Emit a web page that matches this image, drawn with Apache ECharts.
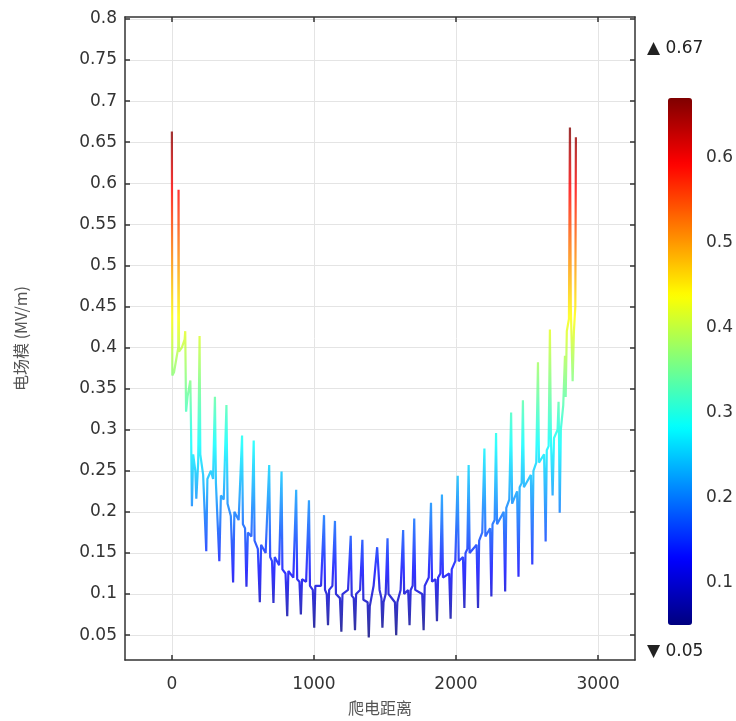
<!DOCTYPE html>
<html>
<head>
<meta charset="utf-8">
<script src="https://cdn.jsdelivr.net/npm/echarts@6/dist/echarts.min.js"></script>
<style>html,body{margin:0;padding:0;background:#fff}#c{width:736px;height:721px}</style>
</head>
<body>
<div id="c"></div>
<script>
// creepage distance (x) and field strength (y)
var creepage = [0,3,15,35,45,47,50,70,90,94,100,110,125,130,135,141,150,165,172,185,195,200,220,242,250,275,290,303,310,334,345,365,384,392,415,431,440,470,494,500,515,525,535,560,576,582,605,619,628,660,685,692,705,715,724,755,772,778,800,812,820,855,875,882,898,908,916,945,965,972,992,1002,1010,1050,1071,1078,1090,1099,1107,1130,1148,1155,1183,1193,1201,1240,1259,1266,1280,1289,1297,1325,1341,1348,1378,1386,1393,1420,1445,1462,1475,1482,1490,1505,1518,1525,1570,1579,1587,1610,1628,1635,1663,1673,1681,1695,1706,1713,1762,1772,1780,1808,1824,1831,1856,1866,1874,1890,1901,1908,1952,1962,1970,1995,2012,2019,2049,2059,2067,2080,2089,2096,2145,2155,2163,2185,2200,2207,2240,2249,2257,2272,2282,2289,2336,2346,2354,2375,2388,2395,2430,2440,2448,2462,2471,2478,2527,2537,2545,2565,2577,2584,2620,2631,2639,2652,2661,2668,2680,2690,2715,2722,2726,2730,2738,2755,2767,2772,2780,2795,2802,2808,2821,2830,2840,2844];
var fieldStrength = [0.663,0.366,0.37,0.39,0.40,0.592,0.395,0.40,0.41,0.42,0.322,0.34,0.355,0.36,0.30,0.207,0.27,0.25,0.216,0.26,0.414,0.27,0.245,0.152,0.24,0.25,0.24,0.34,0.235,0.14,0.22,0.215,0.33,0.21,0.195,0.114,0.2,0.19,0.293,0.185,0.18,0.109,0.175,0.17,0.287,0.165,0.155,0.090,0.16,0.15,0.257,0.145,0.14,0.089,0.145,0.135,0.249,0.13,0.125,0.073,0.128,0.12,0.227,0.118,0.115,0.075,0.118,0.115,0.214,0.11,0.105,0.059,0.11,0.11,0.196,0.105,0.1,0.062,0.105,0.11,0.189,0.1,0.095,0.054,0.1,0.105,0.171,0.098,0.095,0.056,0.1,0.105,0.166,0.093,0.09,0.047,0.085,0.11,0.157,0.105,0.095,0.059,0.09,0.1,0.168,0.1,0.09,0.050,0.09,0.105,0.178,0.1,0.105,0.062,0.105,0.11,0.192,0.105,0.1,0.056,0.11,0.12,0.211,0.115,0.118,0.067,0.12,0.125,0.221,0.12,0.125,0.070,0.13,0.14,0.244,0.14,0.145,0.083,0.15,0.155,0.257,0.15,0.16,0.083,0.165,0.175,0.277,0.17,0.18,0.097,0.185,0.19,0.296,0.185,0.2,0.103,0.205,0.215,0.321,0.21,0.225,0.121,0.23,0.235,0.336,0.23,0.245,0.136,0.25,0.26,0.382,0.26,0.27,0.164,0.275,0.28,0.422,0.29,0.22,0.29,0.30,0.334,0.28,0.199,0.30,0.33,0.39,0.34,0.42,0.435,0.668,0.45,0.359,0.42,0.45,0.656];

var xTicks = [0, 1000, 2000, 3000];
var yTicks = [0.05, 0.1, 0.15, 0.2, 0.25, 0.3, 0.35, 0.4, 0.45, 0.5, 0.55, 0.6, 0.65, 0.7, 0.75, 0.8];
var barTicks = [0.1, 0.2, 0.3, 0.4, 0.5, 0.6];
var colorMin = 0.05, colorMax = 0.67;
var jet = ['#00007F','#0000FF','#007FFF','#00FFFF','#7FFF7F','#FFFF00','#FF7F00','#FF0000','#7F0000'];

var lineData = creepage.map(function (x, i) { return [x, fieldStrength[i]]; });

var FONT = 'DejaVu Sans';
var CJK = 'Noto Sans CJK SC';
var chart = echarts.init(document.getElementById('c'), null, {renderer: 'canvas'});
var axisLineStyle = {color: '#333', width: 1.5};
var plain = function (v) { return String(v); };
chart.setOption({
  animation: false,
  backgroundColor: '#fff',
  grid: [
    {left: 125, top: 17, right: 101, bottom: 59, containLabel: false},
    {left: 668, top: 98, width: 24, height: 527, containLabel: false}
  ],
  xAxis: [
    {type: 'value', gridIndex: 0, min: -330, max: 3260, position: 'bottom',
     name: '爬电距离', nameLocation: 'middle', nameGap: 40,
     nameTextStyle: {fontFamily: CJK, fontSize: 16, color: '#555'},
     axisLine: {show: true, onZero: false, lineStyle: axisLineStyle},
     axisTick: {show: true, inside: true, length: 5, customValues: xTicks, lineStyle: {color: '#333', width: 1.5}},
     axisLabel: {customValues: xTicks, formatter: plain, margin: 16, fontFamily: FONT, fontSize: 17, color: '#333'},
     splitLine: {show: true, lineStyle: {color: '#e4e4e4', width: 1}}},
    {type: 'value', gridIndex: 0, min: -330, max: 3260, position: 'top',
     axisLine: {show: true, onZero: false, lineStyle: axisLineStyle},
     axisTick: {show: true, inside: true, length: 5, customValues: xTicks, lineStyle: {color: '#333', width: 1.5}},
     axisLabel: {show: false}, splitLine: {show: false}},
    {type: 'value', gridIndex: 1, show: false, min: 0, max: 1}
  ],
  yAxis: [
    {type: 'value', gridIndex: 0, min: 0.0197, max: 0.8024, position: 'left',
     name: '电场模 (MV/m)', nameLocation: 'middle', nameGap: 96,
     nameTextStyle: {fontFamily: CJK, fontSize: 16, color: '#555'},
     axisLine: {show: true, onZero: false, lineStyle: axisLineStyle},
     axisTick: {show: true, inside: true, length: 5, customValues: yTicks, lineStyle: {color: '#333', width: 1.5}},
     axisLabel: {customValues: yTicks, formatter: plain, margin: 8, fontFamily: FONT, fontSize: 17, color: '#333'},
     splitLine: {show: true, lineStyle: {color: '#e4e4e4', width: 1}}},
    {type: 'value', gridIndex: 0, min: 0.0197, max: 0.8024, position: 'right',
     axisLine: {show: true, onZero: false, lineStyle: axisLineStyle},
     axisTick: {show: true, inside: true, length: 5, customValues: yTicks, lineStyle: {color: '#333', width: 1.5}},
     axisLabel: {show: false}, splitLine: {show: false}},
    {type: 'value', gridIndex: 1, min: colorMin, max: colorMax, position: 'right',
     axisLine: {show: false, onZero: false},
     axisTick: {show: true, inside: true, length: 4, customValues: barTicks, lineStyle: {color: '#333', width: 1.2}},
     axisLabel: {customValues: barTicks, formatter: plain, margin: 16, fontFamily: FONT, fontSize: 17, color: '#333'},
     splitLine: {show: false}},
    {type: 'value', gridIndex: 1, min: colorMin, max: colorMax, position: 'left',
     axisLine: {show: false, onZero: false},
     axisTick: {show: true, inside: true, length: 4, customValues: barTicks, lineStyle: {color: '#333', width: 1.2}},
     axisLabel: {show: false}, splitLine: {show: false}}
  ],
  visualMap: {
    type: 'continuous', min: colorMin, max: colorMax, dimension: 1, seriesIndex: 0,
    calculable: false, left: 668, top: 98, itemWidth: 24, itemHeight: 527, padding: 0,
    text: null, showLabel: false, hoverLink: false,
    inRange: {color: jet}
  },
  graphic: [
    {type: 'text', left: 647, top: 40, style: {text: '▲ 0.67', fontFamily: FONT, fontSize: 17, fill: '#222'}},
    {type: 'text', left: 647, top: 643, style: {text: '▼ 0.05', fontFamily: FONT, fontSize: 17, fill: '#222'}}
  ],
  series: [{
    type: 'line', xAxisIndex: 0, yAxisIndex: 0, data: lineData,
    showSymbol: false, symbol: 'none', smooth: false,
    lineStyle: {width: 2.2, opacity: 0.8}
  }]
});
</script>
</body>
</html>
